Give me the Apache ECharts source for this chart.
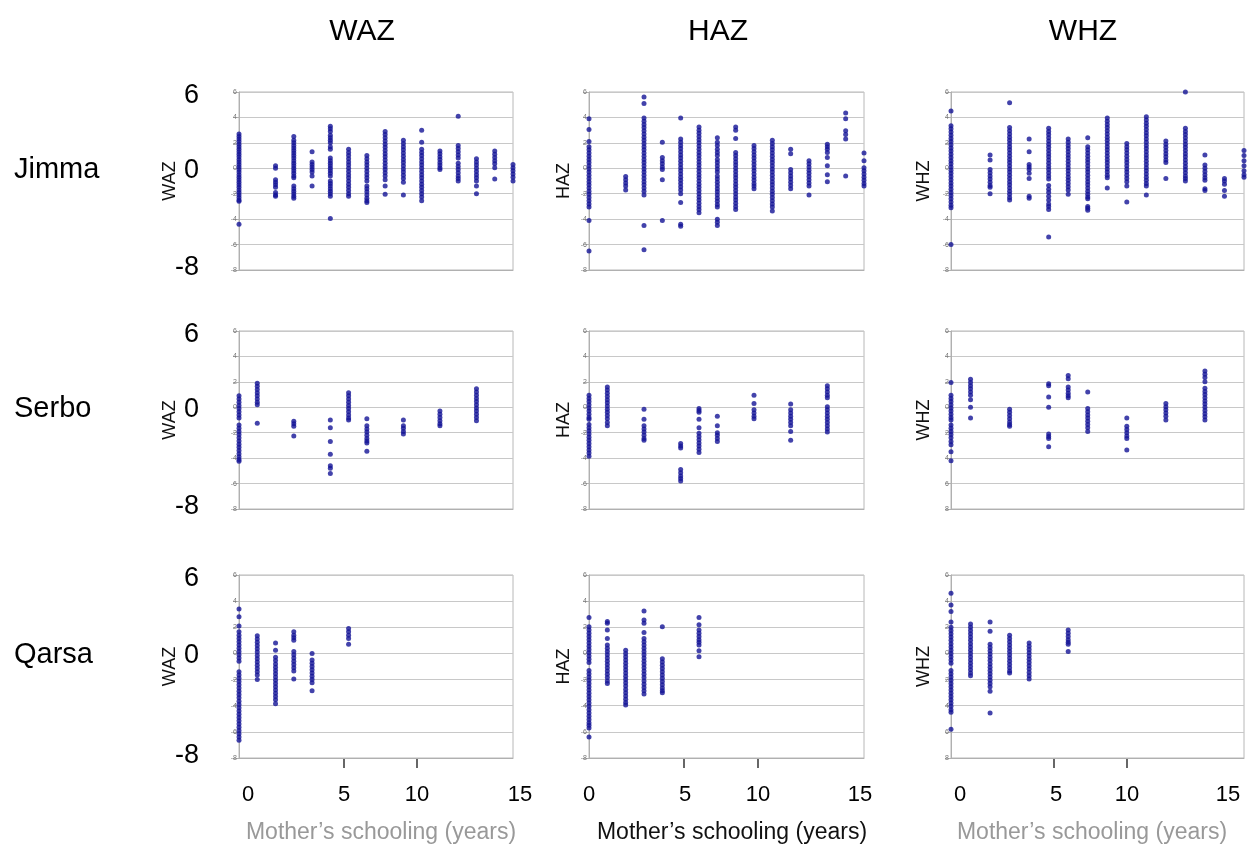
<!DOCTYPE html>
<html>
<head>
<meta charset="utf-8">
<script src="https://cdn.jsdelivr.net/npm/echarts@6/dist/echarts.min.js"></script>
<style>
  html, body { margin: 0; padding: 0; background: #fff; }
  #chart { width: 1247px; height: 847px; }
</style>
</head>
<body>
<div id="chart"></div>
<script>
// sites (rows) and indices (columns)
const sites = ['Jimma', 'Serbo', 'Qarsa'];
const indices = ['WAZ', 'HAZ', 'WHZ'];
const bigTicks = ['6', '0', '-8'];
const xTickLabels = ['0', '5', '10', '15'];
const xTitle = 'Mother\u2019s schooling (years)';

// each entry: [years of schooling, [z-scores read at that column]]
const jimmaWAZ = [
  [0, [2.7, 2.5, 2.3, 2.1, 1.9, 1.7, 1.5, 1.3, 1.1, 0.9, 0.7, 0.5, 0.3, 0.1, -0.1, -0.3, -0.5, -0.7, -0.9, -1.1, -1.3, -1.5, -1.7, -1.9, -2.1, -2.3, -2.5, -2.6, -4.4]],
  [2, [0.2, 0.0, -0.9, -1.1, -1.3, -1.5, -1.9, -2.1, -2.2]],
  [3, [2.5, 2.2, 2.0, 1.8, 1.6, 1.4, 1.2, 1.0, 0.8, 0.6, 0.4, 0.2, 0.0, -0.2, -0.4, -0.6, -0.75, -1.4, -1.6, -1.8, -2.0, -2.2, -2.35]],
  [4, [1.3, 0.5, 0.3, 0.1, -0.1, -0.3, -0.6, -1.4]],
  [5, [3.3, 3.1, 2.9, 2.6, 2.4, 2.2, 2.0, 1.7, 1.5, 0.8, 0.6, 0.4, 0.2, 0.0, -0.2, -0.4, -0.6, -1.0, -1.2, -1.4, -1.6, -1.8, -2.0, -2.2, -3.95]],
  [6, [1.5, 1.25, 1.0, 0.75, 0.5, 0.25, 0.0, -0.25, -0.5, -0.75, -1.0, -1.25, -1.5, -1.75, -2.0, -2.2]],
  [7, [1.0, 0.75, 0.5, 0.25, 0.0, -0.25, -0.5, -0.75, -1.0, -1.4, -1.6, -1.85, -2.1, -2.35, -2.55, -2.7]],
  [8, [2.9, 2.65, 2.4, 2.15, 1.9, 1.65, 1.4, 1.15, 0.9, 0.65, 0.4, 0.15, -0.1, -0.35, -0.6, -0.9, -1.4, -2.05]],
  [9, [2.2, 1.95, 1.7, 1.45, 1.2, 0.95, 0.7, 0.45, 0.2, -0.05, -0.3, -0.55, -0.8, -1.1, -2.1]],
  [10, [3.0, 2.05, 1.5, 1.25, 1.0, 0.75, 0.5, 0.25, 0.0, -0.25, -0.5, -0.75, -1.0, -1.25, -1.5, -1.75, -2.0, -2.25, -2.55]],
  [11, [1.35, 1.15, 0.9, 0.7, 0.45, 0.25, 0.05, -0.1]],
  [12, [4.1, 1.8, 1.55, 1.3, 1.05, 0.8, 0.4, 0.15, -0.1, -0.35, -0.6, -0.8, -1.0]],
  [13, [0.75, 0.5, 0.25, 0.0, -0.25, -0.5, -0.75, -1.0, -1.4, -2.0]],
  [14, [1.35, 1.1, 0.85, 0.6, 0.35, 0.05, -0.85]],
  [15, [0.3, 0.05, -0.2, -0.45, -0.7, -1.0]]
];
const jimmaHAZ = [
  [0, [3.9, 3.05, 2.1, 1.7, 1.45, 1.2, 0.95, 0.7, 0.45, 0.2, -0.05, -0.3, -0.55, -0.8, -1.05, -1.3, -1.55, -1.8, -2.05, -2.3, -2.55, -2.8, -3.05, -4.1, -6.5]],
  [2, [-0.65, -0.9, -1.15, -1.4, -1.7]],
  [3, [5.6, 5.1, 3.95, 3.7, 3.45, 3.2, 2.95, 2.7, 2.45, 2.2, 1.95, 1.7, 1.45, 1.2, 0.95, 0.7, 0.45, 0.2, -0.05, -0.3, -0.55, -0.8, -1.05, -1.3, -1.55, -1.8, -2.1, -4.5, -6.4]],
  [4, [2.05, 0.85, 0.6, 0.35, 0.1, -0.1, -0.9, -4.1]],
  [5, [3.95, 2.3, 2.05, 1.8, 1.55, 1.3, 1.05, 0.8, 0.55, 0.3, 0.05, -0.2, -0.45, -0.7, -0.95, -1.2, -1.45, -1.7, -2.0, -2.7, -4.4, -4.55]],
  [6, [3.25, 3.0, 2.75, 2.5, 2.25, 2.0, 1.75, 1.5, 1.25, 1.0, 0.75, 0.5, 0.25, 0.0, -0.25, -0.5, -0.75, -1.0, -1.25, -1.5, -1.75, -2.0, -2.25, -2.5, -2.75, -3.0, -3.25, -3.5]],
  [7, [2.4, 2.05, 1.8, 1.5, 1.25, 1.0, 0.7, 0.45, 0.2, -0.05, -0.3, -0.6, -0.85, -1.1, -1.35, -1.6, -1.85, -2.1, -2.35, -2.6, -2.85, -3.05, -4.0, -4.25, -4.5]],
  [8, [3.25, 3.0, 2.35, 1.25, 1.0, 0.75, 0.5, 0.25, 0.0, -0.25, -0.5, -0.75, -1.0, -1.25, -1.5, -1.75, -2.0, -2.25, -2.5, -2.75, -3.0, -3.25]],
  [9, [1.8, 1.55, 1.3, 1.05, 0.8, 0.55, 0.3, 0.05, -0.2, -0.45, -0.7, -0.95, -1.2, -1.4, -1.6]],
  [10, [2.2, 1.95, 1.7, 1.45, 1.2, 0.95, 0.7, 0.45, 0.2, -0.05, -0.3, -0.55, -0.8, -1.05, -1.3, -1.55, -1.8, -2.05, -2.3, -2.55, -2.8, -3.05, -3.35]],
  [11, [1.5, 1.15, -0.1, -0.35, -0.6, -0.85, -1.1, -1.35, -1.6]],
  [12, [0.6, 0.35, 0.1, -0.15, -0.4, -0.65, -0.9, -1.15, -1.4, -2.1]],
  [13, [1.9, 1.7, 1.5, 1.25, 0.85, 0.2, -0.5, -1.05]],
  [14, [4.35, 3.9, 2.95, 2.65, 2.3, -0.6]],
  [15, [1.2, 0.6, 0.05, -0.2, -0.45, -0.7, -0.95, -1.2, -1.4]]
];
const jimmaWHZ = [
  [0, [4.5, 3.35, 3.1, 2.85, 2.6, 2.35, 2.1, 1.85, 1.6, 1.35, 1.1, 0.85, 0.6, 0.35, 0.1, -0.15, -0.4, -0.65, -0.9, -1.15, -1.4, -1.65, -1.9, -2.15, -2.4, -2.65, -2.9, -3.1, -6.0]],
  [2, [1.05, 0.65, -0.1, -0.35, -0.6, -0.85, -1.1, -1.35, -1.5, -2.0]],
  [3, [5.15, 3.2, 2.95, 2.7, 2.45, 2.2, 1.95, 1.7, 1.45, 1.2, 0.95, 0.7, 0.45, 0.2, -0.05, -0.3, -0.55, -0.8, -1.05, -1.3, -1.55, -1.8, -2.05, -2.3, -2.5]],
  [4, [2.3, 1.3, 0.3, 0.1, -0.1, -0.4, -0.8, -2.2, -2.35]],
  [5, [3.15, 2.9, 2.65, 2.4, 2.15, 1.9, 1.65, 1.4, 1.15, 0.9, 0.65, 0.4, 0.15, -0.1, -0.35, -0.6, -0.85, -1.35, -1.65, -1.9, -2.2, -2.5, -2.8, -3.0, -3.25, -5.4]],
  [6, [2.3, 2.05, 1.8, 1.55, 1.3, 1.05, 0.8, 0.55, 0.3, 0.05, -0.2, -0.45, -0.7, -0.95, -1.2, -1.45, -1.7, -2.05]],
  [7, [2.4, 1.7, 1.45, 1.2, 0.95, 0.7, 0.45, 0.2, -0.05, -0.3, -0.55, -0.8, -1.05, -1.3, -1.55, -1.8, -2.05, -2.25, -2.4, -3.0, -3.15, -3.3]],
  [8, [3.95, 3.7, 3.45, 3.2, 2.95, 2.7, 2.45, 2.2, 1.95, 1.7, 1.45, 1.2, 0.95, 0.7, 0.45, 0.2, -0.05, -0.3, -0.55, -0.75, -1.55]],
  [9, [1.95, 1.7, 1.45, 1.2, 0.95, 0.7, 0.45, 0.2, -0.05, -0.3, -0.55, -0.8, -1.05, -1.4, -2.65]],
  [10, [4.05, 3.8, 3.55, 3.3, 3.05, 2.8, 2.55, 2.3, 2.05, 1.8, 1.55, 1.3, 1.05, 0.8, 0.55, 0.3, 0.05, -0.2, -0.45, -0.7, -0.95, -1.2, -1.4, -2.1]],
  [11, [2.15, 1.9, 1.65, 1.4, 1.15, 0.9, 0.65, 0.45, -0.8]],
  [12, [6.0, 3.15, 2.9, 2.65, 2.4, 2.15, 1.9, 1.65, 1.4, 1.15, 0.9, 0.65, 0.4, 0.15, -0.1, -0.35, -0.6, -0.8, -1.0]],
  [13, [1.05, 0.25, 0.0, -0.25, -0.5, -0.75, -0.95, -1.6, -1.75]],
  [14, [-0.8, -1.0, -1.25, -1.75, -2.2]],
  [15, [1.4, 1.0, 0.6, 0.2, -0.2, -0.5, -0.7]]
];
const serboWAZ = [
  [0, [0.9, 0.65, 0.4, 0.15, -0.1, -0.35, -0.6, -0.85, -1.4, -1.65, -1.9, -2.15, -2.4, -2.65, -2.9, -3.15, -3.4, -3.65, -3.9, -4.1, -4.25]],
  [1, [1.9, 1.65, 1.4, 1.15, 0.9, 0.65, 0.4, 0.2, -1.25]],
  [3, [-1.1, -1.3, -1.5, -2.25]],
  [5, [-1.0, -1.6, -2.7, -3.7, -4.6, -4.8, -5.2]],
  [6, [1.15, 0.9, 0.65, 0.4, 0.15, -0.1, -0.35, -0.6, -0.85, -1.0]],
  [7, [-0.9, -1.45, -1.7, -1.95, -2.2, -2.45, -2.65, -2.8, -3.45]],
  [9, [-1.0, -1.45, -1.65, -1.9, -2.1]],
  [11, [-0.3, -0.55, -0.8, -1.05, -1.3, -1.45]],
  [13, [1.45, 1.2, 0.95, 0.7, 0.45, 0.2, -0.05, -0.3, -0.55, -0.8, -1.05]]
];
const serboHAZ = [
  [0, [0.95, 0.7, 0.45, 0.2, -0.05, -0.3, -0.55, -0.8, -0.95, -1.35, -1.6, -1.85, -2.1, -2.35, -2.6, -2.85, -3.1, -3.35, -3.6, -3.85]],
  [1, [1.6, 1.35, 1.1, 0.85, 0.6, 0.35, 0.1, -0.15, -0.4, -0.65, -0.9, -1.2, -1.45]],
  [3, [-0.15, -0.95, -1.45, -1.7, -1.95, -2.2, -2.45, -2.6]],
  [5, [-2.85, -3.05, -3.2, -4.9, -5.15, -5.4, -5.6, -5.8]],
  [6, [-0.1, -0.25, -0.4, -0.95, -1.6, -2.05, -2.3, -2.55, -2.8, -3.05, -3.3, -3.55]],
  [7, [-0.7, -1.45, -2.0, -2.2, -2.45, -2.7]],
  [9, [0.95, 0.3, -0.2, -0.45, -0.7, -0.9]],
  [11, [0.25, -0.2, -0.45, -0.7, -0.95, -1.2, -1.45, -1.9, -2.6]],
  [13, [1.7, 1.45, 1.2, 0.95, 0.75, 0.05, -0.2, -0.45, -0.7, -0.95, -1.2, -1.45, -1.7, -1.95]]
];
const serboWHZ = [
  [0, [1.95, 0.95, 0.7, 0.45, 0.2, -0.05, -0.3, -0.55, -0.8, -1.0, -1.4, -1.65, -1.9, -2.15, -2.4, -2.7, -2.95, -3.5, -4.2]],
  [1, [2.2, 1.95, 1.7, 1.45, 1.2, 0.95, 0.6, 0.0, -0.85]],
  [3, [-0.15, -0.4, -0.65, -0.9, -1.15, -1.35, -1.5]],
  [5, [1.85, 1.7, 0.8, 0.0, -2.1, -2.3, -2.45, -3.1]],
  [6, [2.5, 2.25, 1.6, 1.35, 1.1, 0.9, 0.75]],
  [7, [1.2, -0.1, -0.35, -0.6, -0.85, -1.1, -1.35, -1.6, -1.9]],
  [9, [-0.85, -1.5, -1.75, -2.0, -2.25, -2.45, -3.35]],
  [11, [0.3, 0.05, -0.2, -0.45, -0.7, -1.0]],
  [13, [2.85, 2.6, 2.35, 2.0, 1.5, 1.25, 1.0, 0.75, 0.5, 0.25, 0.0, -0.25, -0.5, -0.75, -1.0]]
];
const qarsaWAZ = [
  [0, [3.4, 2.8, 2.1, 1.65, 1.4, 1.15, 0.9, 0.65, 0.4, 0.15, -0.1, -0.35, -0.6, -1.4, -1.65, -1.9, -2.15, -2.4, -2.65, -2.9, -3.15, -3.4, -3.65, -3.9, -4.15, -4.4, -4.65, -4.9, -5.15, -5.4, -5.65, -5.9, -6.15, -6.4, -6.65]],
  [1, [1.35, 1.1, 0.85, 0.6, 0.35, 0.1, -0.15, -0.4, -0.65, -0.9, -1.15, -1.4, -1.65, -2.0]],
  [2, [0.8, 0.25, -0.3, -0.55, -0.8, -1.05, -1.3, -1.55, -1.8, -2.05, -2.3, -2.55, -2.8, -3.05, -3.3, -3.55, -3.85]],
  [3, [1.65, 1.4, 1.2, 1.0, 0.15, -0.1, -0.35, -0.6, -0.85, -1.1, -1.35, -1.95]],
  [4, [0.0, -0.5, -0.75, -1.0, -1.25, -1.5, -1.75, -2.0, -2.25, -2.85]],
  [6, [1.9, 1.65, 1.4, 1.15, 0.7]]
];
const qarsaHAZ = [
  [0, [2.75, 2.05, 1.8, 1.55, 1.3, 1.05, 0.8, 0.55, 0.3, 0.05, -0.2, -0.45, -0.7, -1.3, -1.55, -1.8, -2.05, -2.3, -2.55, -2.8, -3.05, -3.3, -3.55, -3.8, -4.05, -4.3, -4.55, -4.8, -5.05, -5.3, -5.5, -5.7, -6.4]],
  [1, [2.45, 2.3, 1.8, 1.15, 0.65, 0.4, 0.15, -0.1, -0.35, -0.6, -0.85, -1.1, -1.35, -1.6, -1.85, -2.1, -2.3]],
  [2, [0.25, 0.0, -0.25, -0.5, -0.75, -1.0, -1.25, -1.5, -1.75, -2.0, -2.25, -2.5, -2.75, -3.0, -3.25, -3.5, -3.75, -3.95]],
  [3, [3.25, 2.55, 2.3, 1.6, 1.15, 0.9, 0.65, 0.4, 0.15, -0.1, -0.35, -0.6, -0.85, -1.1, -1.35, -1.6, -1.85, -2.1, -2.35, -2.6, -2.85, -3.1]],
  [4, [2.05, -0.4, -0.65, -0.9, -1.15, -1.4, -1.65, -1.9, -2.15, -2.4, -2.65, -2.85, -3.0]],
  [6, [2.75, 2.2, 1.8, 1.55, 1.3, 1.05, 0.85, 0.65, 0.2, -0.25]]
];
const qarsaWHZ = [
  [0, [4.6, 3.7, 3.2, 2.4, 2.0, 1.75, 1.5, 1.25, 1.0, 0.75, 0.5, 0.25, 0.0, -0.25, -0.5, -0.75, -1.3, -1.55, -1.8, -2.05, -2.3, -2.55, -2.8, -3.05, -3.3, -3.55, -3.8, -4.05, -4.3, -4.5, -5.8]],
  [1, [2.25, 2.0, 1.75, 1.5, 1.25, 1.0, 0.75, 0.5, 0.25, 0.0, -0.25, -0.5, -0.75, -1.0, -1.25, -1.5, -1.7]],
  [2, [2.4, 1.7, 0.7, 0.45, 0.2, -0.05, -0.3, -0.55, -0.8, -1.05, -1.3, -1.55, -1.8, -2.05, -2.3, -2.55, -2.9, -4.55]],
  [3, [1.4, 1.15, 0.9, 0.65, 0.4, 0.15, -0.1, -0.35, -0.6, -0.85, -1.1, -1.35, -1.5]],
  [4, [0.8, 0.55, 0.3, 0.05, -0.2, -0.45, -0.7, -0.95, -1.2, -1.45, -1.7, -1.95]],
  [6, [1.8, 1.55, 1.3, 1.05, 0.85, 0.7, 0.15]]
];

const panels = [
  [jimmaWAZ, jimmaHAZ, jimmaWHZ],
  [serboWAZ, serboHAZ, serboWHZ],
  [qarsaWAZ, qarsaHAZ, qarsaWHZ]
];

// layout (px)
const colLeft = [239, 589, 951];
const colWidth = [274, 275, 293];
const rowTop = [92, 331, 575];
const rowHeight = [178, 178, 183];
const nameGaps = [60, 16, 18];
const colTitleX = [362, 718, 1083];
// the pasted-on bottom scale of the original figure
const xLabelPos = [[248, 344, 417, 520], [589, 685, 758, 860], [960, 1056, 1127, 1228]];
const xTickPos = [[344, 417], [684, 758], [1054, 1127]];
const xTitleX = [381, 732, 1092];
const xTitleColor = ['#999999', '#111111', '#999999'];

const font = 'Liberation Sans, Arial, Helvetica, sans-serif';
const dotColor = '#141496';

function flatten(groups) {
  const out = [];
  groups.forEach(function (g) {
    g[1].forEach(function (v) { out.push([g[0], v]); });
  });
  return out;
}

const grids = [], xAxes = [], yAxes = [], series = [], graphics = [];
for (let r = 0; r < 3; r++) {
  for (let c = 0; c < 3; c++) {
    const i = r * 3 + c;
    grids.push({
      left: colLeft[c], top: rowTop[r], width: colWidth[c], height: rowHeight[r],
      show: true, borderColor: '#b8b8b8', borderWidth: 1
    });
    xAxes.push({
      gridIndex: i, type: 'value', min: 0, max: 15,
      axisLine: { show: true, onZero: false, lineStyle: { color: '#b0b0b0' } },
      axisTick: { show: false }, axisLabel: { show: false }, splitLine: { show: false }
    });
    const noMinus = c === 2 && r > 0;
    yAxes.push({
      gridIndex: i, type: 'value', min: -8, max: 6, interval: 2,
      name: indices[c], nameLocation: 'middle', nameGap: nameGaps[c],
      nameTextStyle: { fontSize: 18, color: '#111', fontFamily: font },
      axisLine: { show: true, lineStyle: { color: '#b0b0b0' } },
      axisTick: { show: true, length: 6, lineStyle: { color: '#b0b0b0' } },
      axisLabel: {
        fontSize: 7, color: '#777', margin: 2, fontFamily: font,
        formatter: function (v) { return noMinus ? String(Math.abs(v)) : String(v); }
      },
      splitLine: { show: true, lineStyle: { color: '#c8c8c8', width: 1 } }
    });
    series.push({
      type: 'scatter', xAxisIndex: i, yAxisIndex: i,
      data: flatten(panels[r][c]),
      symbolSize: 5, itemStyle: { color: dotColor },
      clip: false
    });
  }
}

// column titles
indices.forEach(function (t, c) {
  graphics.push({
    type: 'text', x: colTitleX[c], y: 32,
    style: { text: t, font: '30px ' + font, fill: '#000', textAlign: 'center', textVerticalAlign: 'middle' }
  });
});

// row labels and the large y scale marks
sites.forEach(function (s, r) {
  const top = rowTop[r], h = rowHeight[r];
  graphics.push({
    type: 'text', x: 14, y: top + h * 6 / 14 + 2,
    style: { text: s, font: '29px ' + font, fill: '#000', textAlign: 'left', textVerticalAlign: 'middle' }
  });
  const ys = [top + 4, top + h * 6 / 14 + 2, top + h - 2];
  bigTicks.forEach(function (t, k) {
    graphics.push({
      type: 'text', x: 199, y: ys[k],
      style: { text: t, font: '27px ' + font, fill: '#000', textAlign: 'right', textVerticalAlign: 'middle' }
    });
  });
});

// bottom scale: ticks, numbers, titles
for (let c = 0; c < 3; c++) {
  const bottom = rowTop[2] + rowHeight[2];
  xTickPos[c].forEach(function (x) {
    graphics.push({
      type: 'line', shape: { x1: x, y1: bottom, x2: x, y2: bottom + 10 },
      style: { stroke: '#000', lineWidth: 1.2 }
    });
  });
  xTickLabels.forEach(function (t, k) {
    graphics.push({
      type: 'text', x: xLabelPos[c][k], y: 795,
      style: { text: t, font: '22px ' + font, fill: '#000', textAlign: 'center', textVerticalAlign: 'middle' }
    });
  });
  graphics.push({
    type: 'text', x: xTitleX[c], y: 833,
    style: { text: xTitle, font: '23px ' + font, fill: xTitleColor[c], textAlign: 'center', textVerticalAlign: 'middle' }
  });
}

const chart = echarts.init(document.getElementById('chart'), null, { renderer: 'canvas' });
chart.setOption({
  animation: false,
  backgroundColor: '#fff',
  grid: grids,
  xAxis: xAxes,
  yAxis: yAxes,
  series: series,
  graphic: graphics
});
</script>
</body>
</html>
